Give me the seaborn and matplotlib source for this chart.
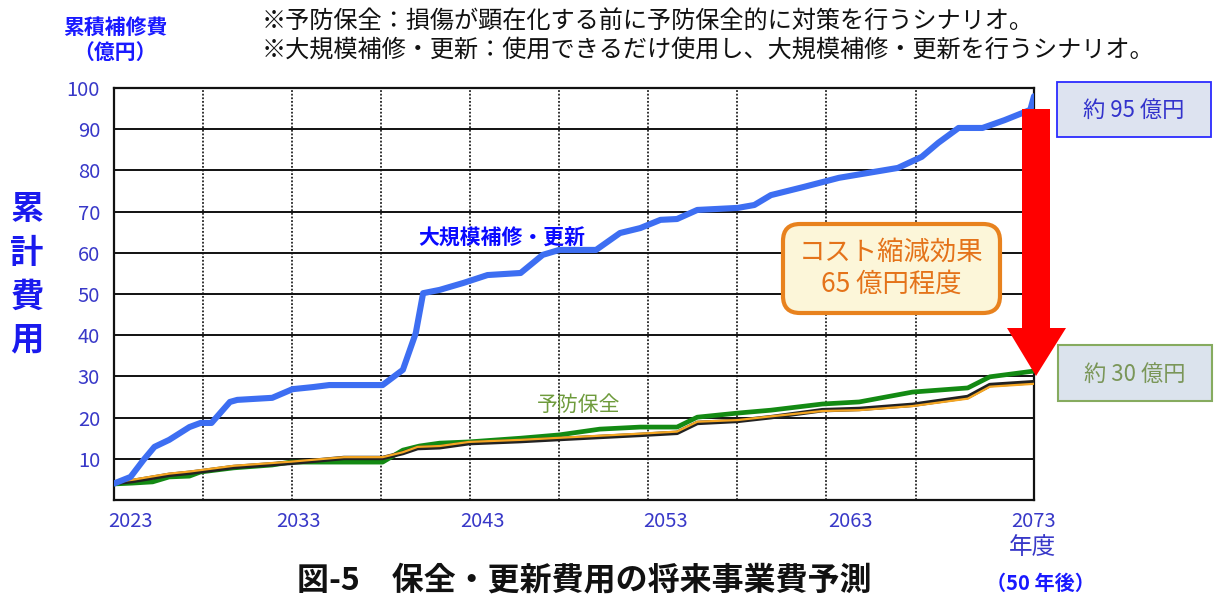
import numpy as np
import pandas as pd
import matplotlib
matplotlib.use("Agg")
import matplotlib.pyplot as plt
import seaborn as sns
from matplotlib.patches import FancyBboxPatch, Polygon, Rectangle
from matplotlib.transforms import ScaledTranslation

# ---------------- data ----------------
blue_years = [2023.0, 2023.9, 2024.6, 2025.2, 2026.0, 2027.1, 2027.7, 2028.3, 2029.3, 2029.7,
              2031.6, 2032.7, 2033.8, 2034.7, 2037.6, 2038.7, 2039.4, 2039.8, 2040.7, 2042.0,
              2043.3, 2045.1, 2046.3, 2047.2, 2049.2, 2050.5, 2051.6, 2052.7, 2053.6, 2054.7,
              2056.9, 2057.8, 2058.7, 2060.5, 2062.4, 2065.6, 2066.9, 2067.8, 2068.9, 2070.2,
              2071.4, 2072.8, 2073.0]
blue_values = [4.0, 5.6, 9.7, 12.9, 14.6, 17.7, 18.7, 18.7, 23.8, 24.3,
               24.8, 26.9, 27.4, 27.9, 27.9, 31.6, 40.5, 50.2, 51.0, 52.7,
               54.6, 55.1, 59.5, 60.7, 60.7, 64.8, 66.0, 68.0, 68.2, 70.4,
               70.9, 71.6, 74.0, 76.0, 78.2, 80.6, 83.3, 86.7, 90.3, 90.3,
               92.2, 94.7, 98.0]

green_years = [2023.0, 2024.0, 2025.1, 2026.0, 2027.1, 2027.7, 2029.5, 2031.6, 2032.6, 2037.6,
               2038.7, 2039.6, 2040.7, 2042.3, 2045.1, 2047.2, 2049.4, 2051.6, 2053.6, 2054.7,
               2056.9, 2058.7, 2061.5, 2063.5, 2066.4, 2069.4, 2070.6, 2073.0]
green_values = [3.9, 4.1, 4.4, 5.6, 5.8, 6.8, 7.8, 8.5, 9.2, 9.2,
                12.1, 13.1, 13.8, 14.1, 15.0, 15.8, 17.2, 17.7, 17.7, 20.1,
                21.1, 21.8, 23.3, 23.8, 26.2, 27.2, 29.9, 31.3]

black_years = [2023.0, 2024.0, 2026.0, 2027.1, 2029.5, 2032.6, 2035.5, 2037.6, 2038.7, 2039.5,
               2040.7, 2042.3, 2045.1, 2047.2, 2049.4, 2051.6, 2053.6, 2054.7, 2056.9, 2058.7,
               2061.5, 2063.5, 2066.4, 2069.4, 2070.6, 2073.0]
black_values = [4.1, 4.6, 6.1, 6.6, 8.0, 9.0, 10.2, 10.2, 11.4, 12.6,
                12.8, 13.8, 14.3, 14.8, 15.3, 15.8, 16.3, 18.7, 19.2, 20.1,
                21.8, 22.1, 23.1, 25.0, 27.9, 28.6]
orange_values = [4.4, 4.9, 6.4, 6.9, 8.3, 9.3, 10.4, 10.4, 11.6, 12.9,
                 13.1, 14.1, 14.6, 15.1, 15.6, 16.1, 16.6, 19.0, 19.4, 20.3,
                 21.6, 21.8, 22.8, 24.6, 27.5, 28.2]

y_ticks = [10, 20, 30, 40, 50, 60, 70, 80, 90, 100]
x_ticks = [2023, 2033, 2043, 2053, 2063, 2073]
x_tick_labels = ["2023", "2033", "2043", "2053", "2063", "2073"]

# ---------------- style ----------------
sns.set_theme(style="white")
plt.rcParams["font.family"] = ["Noto Sans CJK JP", "DejaVu Sans"]

W, H = 1214, 598
fig = plt.figure(figsize=(W / 100, H / 100), dpi=100)
fig.patch.set_facecolor("white")
ax = fig.add_axes([114 / W, 1 - 500 / H, 920 / W, 412 / H])
ax.set_facecolor("white")

df_blue = pd.DataFrame({"year": blue_years, "value": blue_values})
df_green = pd.DataFrame({"year": green_years, "value": green_values})
df_black = pd.DataFrame({"year": black_years, "value": black_values})
df_orange = pd.DataFrame({"year": black_years, "value": orange_values})

sns.lineplot(data=df_green, x="year", y="value", ax=ax, color="#138a13", lw=3.4,
             estimator=None, sort=False, zorder=3)
sns.lineplot(data=df_black, x="year", y="value", ax=ax, color="#222222", lw=3.2,
             estimator=None, sort=False, zorder=4)
sns.lineplot(data=df_orange, x="year", y="value", ax=ax, color="#f5a623", lw=1.6,
             estimator=None, sort=False, zorder=5)
sns.lineplot(data=df_blue, x="year", y="value", ax=ax, color="#3d6ef2", lw=4.4,
             estimator=None, sort=False, zorder=6)

ax.set_xlim(2023, 2073)
ax.set_ylim(0, 100)
ax.set_xlabel("")
ax.set_ylabel("")

tick_color = "#3838c8"
ax.set_yticks(y_ticks)
ax.set_yticklabels([str(v) for v in y_ticks])
ax.set_xticks(x_ticks)
ax.set_xticklabels(x_tick_labels)
grid_minor = list(2023 + 4.84 * np.arange(1, 10))
ax.set_xticks(grid_minor, minor=True)
ax.tick_params(axis="both", which="both", length=0)
ax.tick_params(axis="y", pad=10, labelsize=14.5, labelcolor=tick_color)
ax.tick_params(axis="x", pad=8, labelsize=14.5, labelcolor=tick_color)

ax.grid(False)
ax.yaxis.grid(True, which="major", color="#111111", lw=1.4, ls="-", zorder=1)
ax.xaxis.grid(True, which="minor", color="#222222", lw=1.3, ls=(0, (1, 1)), zorder=1)
ax.set_axisbelow(True)
for s in ax.spines.values():
    s.set_visible(True)
    s.set_color("#111111")
    s.set_linewidth(1.6)

# shift first x label a bit to the right
lbl0 = ax.get_xticklabels()[0]
lbl0.set_transform(lbl0.get_transform() + ScaledTranslation(16 / 100, 0, fig.dpi_scale_trans))


def T(x, y, s, **kw):
    kw.setdefault("ha", "center")
    kw.setdefault("va", "center")
    return fig.text(x / W, 1 - y / H, s, **kw)


def P(x, y):
    return (x / 100, (H - y) / 100)


# ---------------- texts ----------------
T(262, 22, "※予防保全：損傷が顕在化する前に予防保全的に対策を行うシナリオ。", ha="left",
  fontsize=17.4, color="#111111")
T(262, 50, "※大規模補修・更新：使用できるだけ使用し、大規模補修・更新を行うシナリオ。", ha="left",
  fontsize=17.4, color="#111111")

T(115, 27, "累積補修費", fontsize=15, fontweight="bold", color="#1a1aff")
T(115, 52, "（億円）", fontsize=15, fontweight="bold", color="#1a1aff")

for ch, yy in zip("累計費用", [210, 253, 297, 340]):
    T(27, yy, ch, fontsize=24, fontweight="bold", color="#1a1aee")

T(418, 238, "大規模補修・更新", ha="left", fontsize=15, fontweight="bold", color="#0a0aff")
T(537, 405, "予防保全", ha="left", fontsize=15, color="#6e9b3c")

T(1032, 548, "年度", fontsize=17, color=tick_color)
T(297, 580, "図-5　保全・更新費用の将来事業費予測", ha="left", fontsize=23,
  fontweight="bold", color="#111111")
T(986, 583, "（50 年後）", ha="left", fontsize=14.5, fontweight="bold", color="#1a1aff")

# ---------------- boxes & arrow ----------------
arrow_pts = [P(1022, 109), P(1050, 109), P(1050, 328), P(1066, 328), P(1036, 376),
             P(1007, 328), P(1022, 328)]
fig.add_artist(Polygon(arrow_pts, closed=True, fc="#ff0000", ec="none",
                       transform=fig.dpi_scale_trans, zorder=10))

x0, y0 = P(783, 313)
fig.add_artist(FancyBboxPatch((x0, y0), 217 / 100, 89 / 100,
                              boxstyle="round,pad=0,rounding_size=0.17",
                              fc="#fcf6d9", ec="#e8821e", lw=3,
                              transform=fig.dpi_scale_trans, zorder=10))
T(891, 252, "コスト縮減効果", fontsize=19, color="#e4731a", zorder=11)
T(891, 284, "65 億円程度", fontsize=19, color="#e4731a", zorder=11)

x0, y0 = P(1057, 137)
fig.add_artist(Rectangle((x0, y0), 154 / 100, 55 / 100, fc="#dde3f0", ec="#2b2bff", lw=1.3,
                         transform=fig.dpi_scale_trans, zorder=10))
T(1134, 110, "約 95 億円", fontsize=16, color="#3333cc", zorder=11)

x0, y0 = P(1058, 401)
fig.add_artist(Rectangle((x0, y0), 154 / 100, 56 / 100, fc="#dbe3ed", ec="#86ab5f", lw=1.5,
                         transform=fig.dpi_scale_trans, zorder=10))
T(1135, 374, "約 30 億円", fontsize=16, color="#7a9658", zorder=11)

fig.savefig("out.png", dpi=100)
